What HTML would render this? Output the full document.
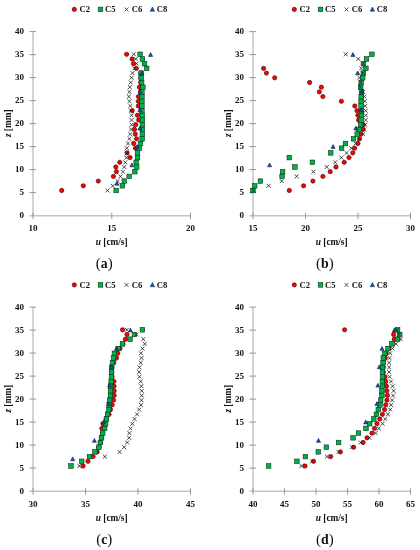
<!DOCTYPE html>
<html><head><meta charset="utf-8"><style>
html,body{margin:0;padding:0;background:#fff;}
svg{display:block;filter:blur(0.3px);}
text{font-family:"Liberation Serif",serif;fill:#111;}
.tk{font-size:9px;font-weight:bold;}
.lg{font-size:8.6px;font-weight:bold;}
.ti{font-size:9.3px;font-weight:bold;}
.cap{font-size:13.8px;font-weight:bold;}
</style></head><body>
<svg width="420" height="550" viewBox="0 0 420 550">
<rect width="420" height="550" fill="#fff"/>
<g transform="translate(0,0)">
<circle cx="74.3" cy="9.4" r="2.15" fill="#ff0000" stroke="#2a0000" stroke-width="0.6"/>
<rect x="98.2" y="7.1000000000000005" width="4.6" height="4.6" fill="#00b050" stroke="#0a2a10" stroke-width="0.55"/>
<path d="M124.6 7.5L128.4 11.3M128.4 7.5L124.6 11.3" stroke="#262626" stroke-width="0.8"/>
<path d="M152.4 7.0L154.6 11.2L150.2 11.2Z" fill="#1658b0" stroke="#0b1f45" stroke-width="0.5" stroke-linejoin="round"/>
<text x="79.5" y="12" class="lg">C2</text>
<text x="105.1" y="12" class="lg">C5</text>
<text x="131.7" y="12" class="lg">C6</text>
<text x="156.7" y="12" class="lg">C8</text>
<line x1="33.0" y1="31.4" x2="33.0" y2="215.8" stroke="#c4c4c4" stroke-width="1.5"/>
<text x="24" y="218.4" class="tk" text-anchor="end">0</text>
<line x1="29.4" y1="192.6" x2="36" y2="192.6" stroke="#8c8c8c" stroke-width="0.9"/>
<text x="24" y="195.4" class="tk" text-anchor="end">5</text>
<line x1="29.4" y1="169.6" x2="36" y2="169.6" stroke="#8c8c8c" stroke-width="0.9"/>
<text x="24" y="172.4" class="tk" text-anchor="end">10</text>
<line x1="29.4" y1="146.6" x2="36" y2="146.6" stroke="#8c8c8c" stroke-width="0.9"/>
<text x="24" y="149.4" class="tk" text-anchor="end">15</text>
<line x1="29.4" y1="123.6" x2="36" y2="123.6" stroke="#8c8c8c" stroke-width="0.9"/>
<text x="24" y="126.4" class="tk" text-anchor="end">20</text>
<line x1="29.4" y1="100.6" x2="36" y2="100.6" stroke="#8c8c8c" stroke-width="0.9"/>
<text x="24" y="103.4" class="tk" text-anchor="end">25</text>
<line x1="29.4" y1="77.6" x2="36" y2="77.6" stroke="#8c8c8c" stroke-width="0.9"/>
<text x="24" y="80.4" class="tk" text-anchor="end">30</text>
<line x1="29.4" y1="54.6" x2="36" y2="54.6" stroke="#8c8c8c" stroke-width="0.9"/>
<text x="24" y="57.4" class="tk" text-anchor="end">35</text>
<line x1="29.4" y1="31.6" x2="36" y2="31.6" stroke="#8c8c8c" stroke-width="0.9"/>
<text x="24" y="34.4" class="tk" text-anchor="end">40</text>
<line x1="29.4" y1="215.8" x2="190.5" y2="215.8" stroke="#c4c4c4" stroke-width="1.5"/>
<line x1="33.0" y1="212.8" x2="33.0" y2="219" stroke="#8c8c8c" stroke-width="0.9"/>
<text x="33.0" y="231.4" class="tk" text-anchor="middle">10</text>
<line x1="111.8" y1="212.8" x2="111.8" y2="219" stroke="#8c8c8c" stroke-width="0.9"/>
<text x="111.8" y="231.4" class="tk" text-anchor="middle">15</text>
<line x1="190.5" y1="212.8" x2="190.5" y2="219" stroke="#8c8c8c" stroke-width="0.9"/>
<text x="190.5" y="231.4" class="tk" text-anchor="middle">20</text>
<text x="111.7" y="245" class="ti" text-anchor="middle"><tspan font-style="italic">u</tspan> [cm/s]</text>
<text transform="translate(11.2,123.3) rotate(-90)" class="ti" text-anchor="middle"><tspan font-style="italic">z</tspan> [mm]</text>
<text x="104.3" y="268.4" class="cap" text-anchor="middle"><tspan font-weight="normal" font-size="15">(</tspan>a<tspan font-weight="normal" font-size="15">)</tspan></text>
</g>
<circle cx="61.7" cy="190.5" r="2.15" fill="#ff0000" stroke="#2a0000" stroke-width="0.6"/>
<circle cx="83.3" cy="185.8" r="2.15" fill="#ff0000" stroke="#2a0000" stroke-width="0.6"/>
<circle cx="98.3" cy="181.1" r="2.15" fill="#ff0000" stroke="#2a0000" stroke-width="0.6"/>
<circle cx="113.4" cy="176.4" r="2.15" fill="#ff0000" stroke="#2a0000" stroke-width="0.6"/>
<circle cx="116.4" cy="171.7" r="2.15" fill="#ff0000" stroke="#2a0000" stroke-width="0.6"/>
<circle cx="115.8" cy="167.0" r="2.15" fill="#ff0000" stroke="#2a0000" stroke-width="0.6"/>
<circle cx="119.8" cy="162.3" r="2.15" fill="#ff0000" stroke="#2a0000" stroke-width="0.6"/>
<circle cx="130.1" cy="157.6" r="2.15" fill="#ff0000" stroke="#2a0000" stroke-width="0.6"/>
<circle cx="127.1" cy="152.9" r="2.15" fill="#ff0000" stroke="#2a0000" stroke-width="0.6"/>
<circle cx="135.5" cy="148.2" r="2.15" fill="#ff0000" stroke="#2a0000" stroke-width="0.6"/>
<circle cx="133.7" cy="143.5" r="2.15" fill="#ff0000" stroke="#2a0000" stroke-width="0.6"/>
<circle cx="136.6" cy="138.8" r="2.15" fill="#ff0000" stroke="#2a0000" stroke-width="0.6"/>
<circle cx="135.3" cy="134.1" r="2.15" fill="#ff0000" stroke="#2a0000" stroke-width="0.6"/>
<circle cx="134.5" cy="129.4" r="2.15" fill="#ff0000" stroke="#2a0000" stroke-width="0.6"/>
<circle cx="135.7" cy="124.7" r="2.15" fill="#ff0000" stroke="#2a0000" stroke-width="0.6"/>
<circle cx="138.7" cy="120.0" r="2.15" fill="#ff0000" stroke="#2a0000" stroke-width="0.6"/>
<circle cx="137.5" cy="115.3" r="2.15" fill="#ff0000" stroke="#2a0000" stroke-width="0.6"/>
<circle cx="132.2" cy="110.7" r="2.15" fill="#ff0000" stroke="#2a0000" stroke-width="0.6"/>
<circle cx="138.3" cy="106.0" r="2.15" fill="#ff0000" stroke="#2a0000" stroke-width="0.6"/>
<circle cx="138.4" cy="101.3" r="2.15" fill="#ff0000" stroke="#2a0000" stroke-width="0.6"/>
<circle cx="138.4" cy="96.6" r="2.15" fill="#ff0000" stroke="#2a0000" stroke-width="0.6"/>
<circle cx="140.4" cy="91.9" r="2.15" fill="#ff0000" stroke="#2a0000" stroke-width="0.6"/>
<circle cx="139.4" cy="87.2" r="2.15" fill="#ff0000" stroke="#2a0000" stroke-width="0.6"/>
<circle cx="140.6" cy="82.5" r="2.15" fill="#ff0000" stroke="#2a0000" stroke-width="0.6"/>
<circle cx="140.8" cy="77.8" r="2.15" fill="#ff0000" stroke="#2a0000" stroke-width="0.6"/>
<circle cx="140.6" cy="73.1" r="2.15" fill="#ff0000" stroke="#2a0000" stroke-width="0.6"/>
<circle cx="136.3" cy="68.4" r="2.15" fill="#ff0000" stroke="#2a0000" stroke-width="0.6"/>
<circle cx="133.5" cy="63.7" r="2.15" fill="#ff0000" stroke="#2a0000" stroke-width="0.6"/>
<circle cx="132.1" cy="59.0" r="2.15" fill="#ff0000" stroke="#2a0000" stroke-width="0.6"/>
<circle cx="126.6" cy="54.3" r="2.15" fill="#ff0000" stroke="#2a0000" stroke-width="0.6"/>
<rect x="113.9" y="188.2" width="4.6" height="4.6" fill="#00b050" stroke="#0a2a10" stroke-width="0.55"/>
<rect x="120.1" y="183.5" width="4.6" height="4.6" fill="#00b050" stroke="#0a2a10" stroke-width="0.55"/>
<rect x="122.0" y="178.8" width="4.6" height="4.6" fill="#00b050" stroke="#0a2a10" stroke-width="0.55"/>
<rect x="126.9" y="174.1" width="4.6" height="4.6" fill="#00b050" stroke="#0a2a10" stroke-width="0.55"/>
<rect x="132.5" y="169.4" width="4.6" height="4.6" fill="#00b050" stroke="#0a2a10" stroke-width="0.55"/>
<rect x="134.4" y="164.7" width="4.6" height="4.6" fill="#00b050" stroke="#0a2a10" stroke-width="0.55"/>
<rect x="133.9" y="160.0" width="4.6" height="4.6" fill="#00b050" stroke="#0a2a10" stroke-width="0.55"/>
<rect x="135.2" y="155.3" width="4.6" height="4.6" fill="#00b050" stroke="#0a2a10" stroke-width="0.55"/>
<rect x="135.2" y="150.6" width="4.6" height="4.6" fill="#00b050" stroke="#0a2a10" stroke-width="0.55"/>
<rect x="137.2" y="145.9" width="4.6" height="4.6" fill="#00b050" stroke="#0a2a10" stroke-width="0.55"/>
<rect x="138.2" y="141.2" width="4.6" height="4.6" fill="#00b050" stroke="#0a2a10" stroke-width="0.55"/>
<rect x="139.9" y="136.5" width="4.6" height="4.6" fill="#00b050" stroke="#0a2a10" stroke-width="0.55"/>
<rect x="140.1" y="131.8" width="4.6" height="4.6" fill="#00b050" stroke="#0a2a10" stroke-width="0.55"/>
<rect x="140.1" y="127.1" width="4.6" height="4.6" fill="#00b050" stroke="#0a2a10" stroke-width="0.55"/>
<rect x="140.1" y="122.4" width="4.6" height="4.6" fill="#00b050" stroke="#0a2a10" stroke-width="0.55"/>
<rect x="140.1" y="117.7" width="4.6" height="4.6" fill="#00b050" stroke="#0a2a10" stroke-width="0.55"/>
<rect x="139.9" y="113.0" width="4.6" height="4.6" fill="#00b050" stroke="#0a2a10" stroke-width="0.55"/>
<rect x="139.6" y="108.4" width="4.6" height="4.6" fill="#00b050" stroke="#0a2a10" stroke-width="0.55"/>
<rect x="139.6" y="103.7" width="4.6" height="4.6" fill="#00b050" stroke="#0a2a10" stroke-width="0.55"/>
<rect x="139.6" y="99.0" width="4.6" height="4.6" fill="#00b050" stroke="#0a2a10" stroke-width="0.55"/>
<rect x="139.6" y="94.3" width="4.6" height="4.6" fill="#00b050" stroke="#0a2a10" stroke-width="0.55"/>
<rect x="139.6" y="89.6" width="4.6" height="4.6" fill="#00b050" stroke="#0a2a10" stroke-width="0.55"/>
<rect x="140.6" y="84.9" width="4.6" height="4.6" fill="#00b050" stroke="#0a2a10" stroke-width="0.55"/>
<rect x="139.3" y="80.2" width="4.6" height="4.6" fill="#00b050" stroke="#0a2a10" stroke-width="0.55"/>
<rect x="138.9" y="75.5" width="4.6" height="4.6" fill="#00b050" stroke="#0a2a10" stroke-width="0.55"/>
<rect x="138.9" y="70.8" width="4.6" height="4.6" fill="#00b050" stroke="#0a2a10" stroke-width="0.55"/>
<rect x="144.4" y="66.1" width="4.6" height="4.6" fill="#00b050" stroke="#0a2a10" stroke-width="0.55"/>
<rect x="142.2" y="61.4" width="4.6" height="4.6" fill="#00b050" stroke="#0a2a10" stroke-width="0.55"/>
<rect x="140.1" y="56.7" width="4.6" height="4.6" fill="#00b050" stroke="#0a2a10" stroke-width="0.55"/>
<rect x="137.8" y="52.0" width="4.6" height="4.6" fill="#00b050" stroke="#0a2a10" stroke-width="0.55"/>
<path d="M105.65 188.55L109.55 192.45M109.55 188.55L105.65 192.45" stroke="#262626" stroke-width="0.85" fill="none"/>
<path d="M110.75 183.85L114.65 187.75M114.65 183.85L110.75 187.75" stroke="#262626" stroke-width="0.85" fill="none"/>
<path d="M115.65 179.16L119.55 183.06M119.55 179.16L115.65 183.06" stroke="#262626" stroke-width="0.85" fill="none"/>
<path d="M118.55 174.46L122.45 178.36M122.45 174.46L118.55 178.36" stroke="#262626" stroke-width="0.85" fill="none"/>
<path d="M120.95 169.76L124.85 173.66M124.85 169.76L120.95 173.66" stroke="#262626" stroke-width="0.85" fill="none"/>
<path d="M122.35 165.06L126.25 168.96M126.25 165.06L122.35 168.96" stroke="#262626" stroke-width="0.85" fill="none"/>
<path d="M123.35 160.37L127.25 164.27M127.25 160.37L123.35 164.27" stroke="#262626" stroke-width="0.85" fill="none"/>
<path d="M124.35 155.67L128.25 159.57M128.25 155.67L124.35 159.57" stroke="#262626" stroke-width="0.85" fill="none"/>
<path d="M124.85 150.97L128.75 154.87M128.75 150.97L124.85 154.87" stroke="#262626" stroke-width="0.85" fill="none"/>
<path d="M124.85 146.28L128.75 150.18M128.75 146.28L124.85 150.18" stroke="#262626" stroke-width="0.85" fill="none"/>
<path d="M126.05 141.58L129.95 145.48M129.95 141.58L126.05 145.48" stroke="#262626" stroke-width="0.85" fill="none"/>
<path d="M127.45 136.88L131.35 140.78M131.35 136.88L127.45 140.78" stroke="#262626" stroke-width="0.85" fill="none"/>
<path d="M128.35 132.19L132.25 136.09M132.25 132.19L128.35 136.09" stroke="#262626" stroke-width="0.85" fill="none"/>
<path d="M129.25 127.49L133.15 131.39M133.15 127.49L129.25 131.39" stroke="#262626" stroke-width="0.85" fill="none"/>
<path d="M129.65 122.79L133.55 126.69M133.55 122.79L129.65 126.69" stroke="#262626" stroke-width="0.85" fill="none"/>
<path d="M129.65 118.09L133.55 122.00M133.55 118.09L129.65 122.00" stroke="#262626" stroke-width="0.85" fill="none"/>
<path d="M129.65 113.40L133.55 117.30M133.55 113.40L129.65 117.30" stroke="#262626" stroke-width="0.85" fill="none"/>
<path d="M129.05 108.70L132.95 112.60M132.95 108.70L129.05 112.60" stroke="#262626" stroke-width="0.85" fill="none"/>
<path d="M128.35 104.00L132.25 107.90M132.25 104.00L128.35 107.90" stroke="#262626" stroke-width="0.85" fill="none"/>
<path d="M127.45 99.31L131.35 103.21M131.35 99.31L127.45 103.21" stroke="#262626" stroke-width="0.85" fill="none"/>
<path d="M126.95 94.61L130.85 98.51M130.85 94.61L126.95 98.51" stroke="#262626" stroke-width="0.85" fill="none"/>
<path d="M127.45 89.91L131.35 93.81M131.35 89.91L127.45 93.81" stroke="#262626" stroke-width="0.85" fill="none"/>
<path d="M127.85 85.22L131.75 89.12M131.75 85.22L127.85 89.12" stroke="#262626" stroke-width="0.85" fill="none"/>
<path d="M128.75 80.52L132.65 84.42M132.65 80.52L128.75 84.42" stroke="#262626" stroke-width="0.85" fill="none"/>
<path d="M129.65 75.82L133.55 79.72M133.55 75.82L129.65 79.72" stroke="#262626" stroke-width="0.85" fill="none"/>
<path d="M130.55 71.12L134.45 75.03M134.45 71.12L130.55 75.03" stroke="#262626" stroke-width="0.85" fill="none"/>
<path d="M132.55 66.43L136.45 70.33M136.45 66.43L132.55 70.33" stroke="#262626" stroke-width="0.85" fill="none"/>
<path d="M134.65 61.73L138.55 65.63M138.55 61.73L134.65 65.63" stroke="#262626" stroke-width="0.85" fill="none"/>
<path d="M133.75 57.03L137.65 60.93M137.65 57.03L133.75 60.93" stroke="#262626" stroke-width="0.85" fill="none"/>
<path d="M131.85 52.34L135.75 56.24M135.75 52.34L131.85 56.24" stroke="#262626" stroke-width="0.85" fill="none"/>
<path d="M116.90 181.40L118.90 185.20L114.90 185.20Z" fill="#1658b0" stroke="#0a1838" stroke-width="0.6" stroke-linejoin="round"/>
<path d="M131.90 163.00L133.90 166.80L129.90 166.80Z" fill="#1658b0" stroke="#0a1838" stroke-width="0.6" stroke-linejoin="round"/>
<path d="M137.10 144.60L139.10 148.40L135.10 148.40Z" fill="#1658b0" stroke="#0a1838" stroke-width="0.6" stroke-linejoin="round"/>
<path d="M139.80 126.20L141.80 130.00L137.80 130.00Z" fill="#1658b0" stroke="#0a1838" stroke-width="0.6" stroke-linejoin="round"/>
<path d="M139.80 107.80L141.80 111.60L137.80 111.60Z" fill="#1658b0" stroke="#0a1838" stroke-width="0.6" stroke-linejoin="round"/>
<path d="M140.10 89.40L142.10 93.20L138.10 93.20Z" fill="#1658b0" stroke="#0a1838" stroke-width="0.6" stroke-linejoin="round"/>
<path d="M142.00 71.00L144.00 74.80L140.00 74.80Z" fill="#1658b0" stroke="#0a1838" stroke-width="0.6" stroke-linejoin="round"/>
<path d="M150.60 52.60L152.60 56.40L148.60 56.40Z" fill="#1658b0" stroke="#0a1838" stroke-width="0.6" stroke-linejoin="round"/>
<g transform="translate(220,0)">
<circle cx="74.3" cy="9.4" r="2.15" fill="#ff0000" stroke="#2a0000" stroke-width="0.6"/>
<rect x="98.2" y="7.1000000000000005" width="4.6" height="4.6" fill="#00b050" stroke="#0a2a10" stroke-width="0.55"/>
<path d="M124.6 7.5L128.4 11.3M128.4 7.5L124.6 11.3" stroke="#262626" stroke-width="0.8"/>
<path d="M152.4 7.0L154.6 11.2L150.2 11.2Z" fill="#1658b0" stroke="#0b1f45" stroke-width="0.5" stroke-linejoin="round"/>
<text x="79.5" y="12" class="lg">C2</text>
<text x="105.1" y="12" class="lg">C5</text>
<text x="131.7" y="12" class="lg">C6</text>
<text x="156.7" y="12" class="lg">C8</text>
<line x1="33.0" y1="31.4" x2="33.0" y2="215.8" stroke="#c4c4c4" stroke-width="1.5"/>
<text x="24" y="218.4" class="tk" text-anchor="end">0</text>
<line x1="29.4" y1="192.6" x2="36" y2="192.6" stroke="#8c8c8c" stroke-width="0.9"/>
<text x="24" y="195.4" class="tk" text-anchor="end">5</text>
<line x1="29.4" y1="169.6" x2="36" y2="169.6" stroke="#8c8c8c" stroke-width="0.9"/>
<text x="24" y="172.4" class="tk" text-anchor="end">10</text>
<line x1="29.4" y1="146.6" x2="36" y2="146.6" stroke="#8c8c8c" stroke-width="0.9"/>
<text x="24" y="149.4" class="tk" text-anchor="end">15</text>
<line x1="29.4" y1="123.6" x2="36" y2="123.6" stroke="#8c8c8c" stroke-width="0.9"/>
<text x="24" y="126.4" class="tk" text-anchor="end">20</text>
<line x1="29.4" y1="100.6" x2="36" y2="100.6" stroke="#8c8c8c" stroke-width="0.9"/>
<text x="24" y="103.4" class="tk" text-anchor="end">25</text>
<line x1="29.4" y1="77.6" x2="36" y2="77.6" stroke="#8c8c8c" stroke-width="0.9"/>
<text x="24" y="80.4" class="tk" text-anchor="end">30</text>
<line x1="29.4" y1="54.6" x2="36" y2="54.6" stroke="#8c8c8c" stroke-width="0.9"/>
<text x="24" y="57.4" class="tk" text-anchor="end">35</text>
<line x1="29.4" y1="31.6" x2="36" y2="31.6" stroke="#8c8c8c" stroke-width="0.9"/>
<text x="24" y="34.4" class="tk" text-anchor="end">40</text>
<line x1="29.4" y1="215.8" x2="190.5" y2="215.8" stroke="#c4c4c4" stroke-width="1.5"/>
<line x1="33.0" y1="212.8" x2="33.0" y2="219" stroke="#8c8c8c" stroke-width="0.9"/>
<text x="33.0" y="231.4" class="tk" text-anchor="middle">15</text>
<line x1="85.5" y1="212.8" x2="85.5" y2="219" stroke="#8c8c8c" stroke-width="0.9"/>
<text x="85.5" y="231.4" class="tk" text-anchor="middle">20</text>
<line x1="138.0" y1="212.8" x2="138.0" y2="219" stroke="#8c8c8c" stroke-width="0.9"/>
<text x="138.0" y="231.4" class="tk" text-anchor="middle">25</text>
<line x1="190.5" y1="212.8" x2="190.5" y2="219" stroke="#8c8c8c" stroke-width="0.9"/>
<text x="190.5" y="231.4" class="tk" text-anchor="middle">30</text>
<text x="111.7" y="245" class="ti" text-anchor="middle"><tspan font-style="italic">u</tspan> [cm/s]</text>
<text transform="translate(11.2,123.3) rotate(-90)" class="ti" text-anchor="middle"><tspan font-style="italic">z</tspan> [mm]</text>
<text x="104.89999999999999" y="268.4" class="cap" text-anchor="middle"><tspan font-weight="normal" font-size="15">(</tspan>b<tspan font-weight="normal" font-size="15">)</tspan></text>
</g>
<circle cx="289.3" cy="190.5" r="2.15" fill="#ff0000" stroke="#2a0000" stroke-width="0.6"/>
<circle cx="303.6" cy="185.8" r="2.15" fill="#ff0000" stroke="#2a0000" stroke-width="0.6"/>
<circle cx="312.9" cy="181.1" r="2.15" fill="#ff0000" stroke="#2a0000" stroke-width="0.6"/>
<circle cx="322.9" cy="176.4" r="2.15" fill="#ff0000" stroke="#2a0000" stroke-width="0.6"/>
<circle cx="330.2" cy="171.7" r="2.15" fill="#ff0000" stroke="#2a0000" stroke-width="0.6"/>
<circle cx="336.0" cy="167.0" r="2.15" fill="#ff0000" stroke="#2a0000" stroke-width="0.6"/>
<circle cx="344.2" cy="162.3" r="2.15" fill="#ff0000" stroke="#2a0000" stroke-width="0.6"/>
<circle cx="349.0" cy="157.6" r="2.15" fill="#ff0000" stroke="#2a0000" stroke-width="0.6"/>
<circle cx="352.8" cy="152.9" r="2.15" fill="#ff0000" stroke="#2a0000" stroke-width="0.6"/>
<circle cx="354.6" cy="148.2" r="2.15" fill="#ff0000" stroke="#2a0000" stroke-width="0.6"/>
<circle cx="357.9" cy="143.5" r="2.15" fill="#ff0000" stroke="#2a0000" stroke-width="0.6"/>
<circle cx="359.5" cy="138.8" r="2.15" fill="#ff0000" stroke="#2a0000" stroke-width="0.6"/>
<circle cx="360.9" cy="134.1" r="2.15" fill="#ff0000" stroke="#2a0000" stroke-width="0.6"/>
<circle cx="363.0" cy="129.4" r="2.15" fill="#ff0000" stroke="#2a0000" stroke-width="0.6"/>
<circle cx="363.3" cy="124.7" r="2.15" fill="#ff0000" stroke="#2a0000" stroke-width="0.6"/>
<circle cx="358.6" cy="120.0" r="2.15" fill="#ff0000" stroke="#2a0000" stroke-width="0.6"/>
<circle cx="357.9" cy="115.3" r="2.15" fill="#ff0000" stroke="#2a0000" stroke-width="0.6"/>
<circle cx="357.0" cy="110.7" r="2.15" fill="#ff0000" stroke="#2a0000" stroke-width="0.6"/>
<circle cx="354.8" cy="106.0" r="2.15" fill="#ff0000" stroke="#2a0000" stroke-width="0.6"/>
<circle cx="341.4" cy="101.3" r="2.15" fill="#ff0000" stroke="#2a0000" stroke-width="0.6"/>
<circle cx="322.9" cy="96.6" r="2.15" fill="#ff0000" stroke="#2a0000" stroke-width="0.6"/>
<circle cx="319.3" cy="91.9" r="2.15" fill="#ff0000" stroke="#2a0000" stroke-width="0.6"/>
<circle cx="321.4" cy="87.2" r="2.15" fill="#ff0000" stroke="#2a0000" stroke-width="0.6"/>
<circle cx="309.6" cy="82.5" r="2.15" fill="#ff0000" stroke="#2a0000" stroke-width="0.6"/>
<circle cx="274.7" cy="77.8" r="2.15" fill="#ff0000" stroke="#2a0000" stroke-width="0.6"/>
<circle cx="266.4" cy="73.1" r="2.15" fill="#ff0000" stroke="#2a0000" stroke-width="0.6"/>
<circle cx="263.6" cy="68.4" r="2.15" fill="#ff0000" stroke="#2a0000" stroke-width="0.6"/>
<rect x="250.6" y="188.2" width="4.6" height="4.6" fill="#00b050" stroke="#0a2a10" stroke-width="0.55"/>
<rect x="252.4" y="183.5" width="4.6" height="4.6" fill="#00b050" stroke="#0a2a10" stroke-width="0.55"/>
<rect x="258.1" y="178.8" width="4.6" height="4.6" fill="#00b050" stroke="#0a2a10" stroke-width="0.55"/>
<rect x="279.8" y="174.1" width="4.6" height="4.6" fill="#00b050" stroke="#0a2a10" stroke-width="0.55"/>
<rect x="280.3" y="169.4" width="4.6" height="4.6" fill="#00b050" stroke="#0a2a10" stroke-width="0.55"/>
<rect x="292.6" y="164.7" width="4.6" height="4.6" fill="#00b050" stroke="#0a2a10" stroke-width="0.55"/>
<rect x="310.1" y="160.0" width="4.6" height="4.6" fill="#00b050" stroke="#0a2a10" stroke-width="0.55"/>
<rect x="287.0" y="155.3" width="4.6" height="4.6" fill="#00b050" stroke="#0a2a10" stroke-width="0.55"/>
<rect x="328.4" y="150.6" width="4.6" height="4.6" fill="#00b050" stroke="#0a2a10" stroke-width="0.55"/>
<rect x="339.3" y="145.9" width="4.6" height="4.6" fill="#00b050" stroke="#0a2a10" stroke-width="0.55"/>
<rect x="343.2" y="141.2" width="4.6" height="4.6" fill="#00b050" stroke="#0a2a10" stroke-width="0.55"/>
<rect x="351.2" y="136.5" width="4.6" height="4.6" fill="#00b050" stroke="#0a2a10" stroke-width="0.55"/>
<rect x="354.9" y="131.8" width="4.6" height="4.6" fill="#00b050" stroke="#0a2a10" stroke-width="0.55"/>
<rect x="356.6" y="127.1" width="4.6" height="4.6" fill="#00b050" stroke="#0a2a10" stroke-width="0.55"/>
<rect x="358.3" y="122.4" width="4.6" height="4.6" fill="#00b050" stroke="#0a2a10" stroke-width="0.55"/>
<rect x="358.8" y="117.7" width="4.6" height="4.6" fill="#00b050" stroke="#0a2a10" stroke-width="0.55"/>
<rect x="359.1" y="113.0" width="4.6" height="4.6" fill="#00b050" stroke="#0a2a10" stroke-width="0.55"/>
<rect x="359.1" y="108.4" width="4.6" height="4.6" fill="#00b050" stroke="#0a2a10" stroke-width="0.55"/>
<rect x="358.8" y="103.7" width="4.6" height="4.6" fill="#00b050" stroke="#0a2a10" stroke-width="0.55"/>
<rect x="358.8" y="99.0" width="4.6" height="4.6" fill="#00b050" stroke="#0a2a10" stroke-width="0.55"/>
<rect x="358.9" y="94.3" width="4.6" height="4.6" fill="#00b050" stroke="#0a2a10" stroke-width="0.55"/>
<rect x="359.2" y="89.6" width="4.6" height="4.6" fill="#00b050" stroke="#0a2a10" stroke-width="0.55"/>
<rect x="358.4" y="84.9" width="4.6" height="4.6" fill="#00b050" stroke="#0a2a10" stroke-width="0.55"/>
<rect x="358.9" y="80.2" width="4.6" height="4.6" fill="#00b050" stroke="#0a2a10" stroke-width="0.55"/>
<rect x="360.4" y="75.5" width="4.6" height="4.6" fill="#00b050" stroke="#0a2a10" stroke-width="0.55"/>
<rect x="361.0" y="70.8" width="4.6" height="4.6" fill="#00b050" stroke="#0a2a10" stroke-width="0.55"/>
<rect x="363.6" y="66.1" width="4.6" height="4.6" fill="#00b050" stroke="#0a2a10" stroke-width="0.55"/>
<rect x="361.1" y="61.4" width="4.6" height="4.6" fill="#00b050" stroke="#0a2a10" stroke-width="0.55"/>
<rect x="364.2" y="56.7" width="4.6" height="4.6" fill="#00b050" stroke="#0a2a10" stroke-width="0.55"/>
<rect x="369.6" y="52.0" width="4.6" height="4.6" fill="#00b050" stroke="#0a2a10" stroke-width="0.55"/>
<path d="M251.65 188.55L255.55 192.45M255.55 188.55L251.65 192.45" stroke="#262626" stroke-width="0.85" fill="none"/>
<path d="M266.65 183.85L270.55 187.75M270.55 183.85L266.65 187.75" stroke="#262626" stroke-width="0.85" fill="none"/>
<path d="M279.75 179.16L283.65 183.06M283.65 179.16L279.75 183.06" stroke="#262626" stroke-width="0.85" fill="none"/>
<path d="M294.65 174.46L298.55 178.36M298.55 174.46L294.65 178.36" stroke="#262626" stroke-width="0.85" fill="none"/>
<path d="M311.45 169.76L315.35 173.66M315.35 169.76L311.45 173.66" stroke="#262626" stroke-width="0.85" fill="none"/>
<path d="M324.75 165.06L328.65 168.96M328.65 165.06L324.75 168.96" stroke="#262626" stroke-width="0.85" fill="none"/>
<path d="M333.25 160.37L337.15 164.27M337.15 160.37L333.25 164.27" stroke="#262626" stroke-width="0.85" fill="none"/>
<path d="M339.35 155.67L343.25 159.57M343.25 155.67L339.35 159.57" stroke="#262626" stroke-width="0.85" fill="none"/>
<path d="M344.65 150.97L348.55 154.87M348.55 150.97L344.65 154.87" stroke="#262626" stroke-width="0.85" fill="none"/>
<path d="M349.35 146.28L353.25 150.18M353.25 146.28L349.35 150.18" stroke="#262626" stroke-width="0.85" fill="none"/>
<path d="M353.55 141.58L357.45 145.48M357.45 141.58L353.55 145.48" stroke="#262626" stroke-width="0.85" fill="none"/>
<path d="M357.35 136.88L361.25 140.78M361.25 136.88L357.35 140.78" stroke="#262626" stroke-width="0.85" fill="none"/>
<path d="M361.35 132.19L365.25 136.09M365.25 132.19L361.35 136.09" stroke="#262626" stroke-width="0.85" fill="none"/>
<path d="M362.25 127.49L366.15 131.39M366.15 127.49L362.25 131.39" stroke="#262626" stroke-width="0.85" fill="none"/>
<path d="M363.25 122.79L367.15 126.69M367.15 122.79L363.25 126.69" stroke="#262626" stroke-width="0.85" fill="none"/>
<path d="M363.75 118.09L367.65 122.00M367.65 118.09L363.75 122.00" stroke="#262626" stroke-width="0.85" fill="none"/>
<path d="M363.75 113.40L367.65 117.30M367.65 113.40L363.75 117.30" stroke="#262626" stroke-width="0.85" fill="none"/>
<path d="M363.75 108.70L367.65 112.60M367.65 108.70L363.75 112.60" stroke="#262626" stroke-width="0.85" fill="none"/>
<path d="M363.25 104.00L367.15 107.90M367.15 104.00L363.25 107.90" stroke="#262626" stroke-width="0.85" fill="none"/>
<path d="M362.85 99.31L366.75 103.21M366.75 99.31L362.85 103.21" stroke="#262626" stroke-width="0.85" fill="none"/>
<path d="M362.35 94.61L366.25 98.51M366.25 94.61L362.35 98.51" stroke="#262626" stroke-width="0.85" fill="none"/>
<path d="M361.05 89.91L364.95 93.81M364.95 89.91L361.05 93.81" stroke="#262626" stroke-width="0.85" fill="none"/>
<path d="M358.35 85.22L362.25 89.12M362.25 85.22L358.35 89.12" stroke="#262626" stroke-width="0.85" fill="none"/>
<path d="M358.65 80.52L362.55 84.42M362.55 80.52L358.65 84.42" stroke="#262626" stroke-width="0.85" fill="none"/>
<path d="M357.55 75.82L361.45 79.72M361.45 75.82L357.55 79.72" stroke="#262626" stroke-width="0.85" fill="none"/>
<path d="M361.05 71.12L364.95 75.03M364.95 71.12L361.05 75.03" stroke="#262626" stroke-width="0.85" fill="none"/>
<path d="M359.25 66.43L363.15 70.33M363.15 66.43L359.25 70.33" stroke="#262626" stroke-width="0.85" fill="none"/>
<path d="M361.55 61.73L365.45 65.63M365.45 61.73L361.55 65.63" stroke="#262626" stroke-width="0.85" fill="none"/>
<path d="M356.35 57.03L360.25 60.93M360.25 57.03L356.35 60.93" stroke="#262626" stroke-width="0.85" fill="none"/>
<path d="M343.75 52.34L347.65 56.24M347.65 52.34L343.75 56.24" stroke="#262626" stroke-width="0.85" fill="none"/>
<path d="M269.60 163.00L271.60 166.80L267.60 166.80Z" fill="#1658b0" stroke="#0a1838" stroke-width="0.6" stroke-linejoin="round"/>
<path d="M333.10 144.60L335.10 148.40L331.10 148.40Z" fill="#1658b0" stroke="#0a1838" stroke-width="0.6" stroke-linejoin="round"/>
<path d="M355.80 126.20L357.80 130.00L353.80 130.00Z" fill="#1658b0" stroke="#0a1838" stroke-width="0.6" stroke-linejoin="round"/>
<path d="M361.40 107.80L363.40 111.60L359.40 111.60Z" fill="#1658b0" stroke="#0a1838" stroke-width="0.6" stroke-linejoin="round"/>
<path d="M361.70 89.40L363.70 93.20L359.70 93.20Z" fill="#1658b0" stroke="#0a1838" stroke-width="0.6" stroke-linejoin="round"/>
<path d="M357.70 71.00L359.70 74.80L355.70 74.80Z" fill="#1658b0" stroke="#0a1838" stroke-width="0.6" stroke-linejoin="round"/>
<path d="M352.90 52.60L354.90 56.40L350.90 56.40Z" fill="#1658b0" stroke="#0a1838" stroke-width="0.6" stroke-linejoin="round"/>
<g transform="translate(0,275.5)">
<circle cx="74.3" cy="9.4" r="2.15" fill="#ff0000" stroke="#2a0000" stroke-width="0.6"/>
<rect x="98.2" y="7.1000000000000005" width="4.6" height="4.6" fill="#00b050" stroke="#0a2a10" stroke-width="0.55"/>
<path d="M124.6 7.5L128.4 11.3M128.4 7.5L124.6 11.3" stroke="#262626" stroke-width="0.8"/>
<path d="M152.4 7.0L154.6 11.2L150.2 11.2Z" fill="#1658b0" stroke="#0b1f45" stroke-width="0.5" stroke-linejoin="round"/>
<text x="79.5" y="12" class="lg">C2</text>
<text x="105.1" y="12" class="lg">C5</text>
<text x="131.7" y="12" class="lg">C6</text>
<text x="156.7" y="12" class="lg">C8</text>
<line x1="33.0" y1="31.4" x2="33.0" y2="215.8" stroke="#c4c4c4" stroke-width="1.5"/>
<text x="24" y="218.4" class="tk" text-anchor="end">0</text>
<line x1="29.4" y1="192.6" x2="36" y2="192.6" stroke="#8c8c8c" stroke-width="0.9"/>
<text x="24" y="195.4" class="tk" text-anchor="end">5</text>
<line x1="29.4" y1="169.6" x2="36" y2="169.6" stroke="#8c8c8c" stroke-width="0.9"/>
<text x="24" y="172.4" class="tk" text-anchor="end">10</text>
<line x1="29.4" y1="146.6" x2="36" y2="146.6" stroke="#8c8c8c" stroke-width="0.9"/>
<text x="24" y="149.4" class="tk" text-anchor="end">15</text>
<line x1="29.4" y1="123.6" x2="36" y2="123.6" stroke="#8c8c8c" stroke-width="0.9"/>
<text x="24" y="126.4" class="tk" text-anchor="end">20</text>
<line x1="29.4" y1="100.6" x2="36" y2="100.6" stroke="#8c8c8c" stroke-width="0.9"/>
<text x="24" y="103.4" class="tk" text-anchor="end">25</text>
<line x1="29.4" y1="77.6" x2="36" y2="77.6" stroke="#8c8c8c" stroke-width="0.9"/>
<text x="24" y="80.4" class="tk" text-anchor="end">30</text>
<line x1="29.4" y1="54.6" x2="36" y2="54.6" stroke="#8c8c8c" stroke-width="0.9"/>
<text x="24" y="57.4" class="tk" text-anchor="end">35</text>
<line x1="29.4" y1="31.6" x2="36" y2="31.6" stroke="#8c8c8c" stroke-width="0.9"/>
<text x="24" y="34.4" class="tk" text-anchor="end">40</text>
<line x1="29.4" y1="215.8" x2="190.5" y2="215.8" stroke="#c4c4c4" stroke-width="1.5"/>
<line x1="33.0" y1="212.8" x2="33.0" y2="219" stroke="#8c8c8c" stroke-width="0.9"/>
<text x="33.0" y="231.4" class="tk" text-anchor="middle">30</text>
<line x1="85.5" y1="212.8" x2="85.5" y2="219" stroke="#8c8c8c" stroke-width="0.9"/>
<text x="85.5" y="231.4" class="tk" text-anchor="middle">35</text>
<line x1="138.0" y1="212.8" x2="138.0" y2="219" stroke="#8c8c8c" stroke-width="0.9"/>
<text x="138.0" y="231.4" class="tk" text-anchor="middle">40</text>
<line x1="190.5" y1="212.8" x2="190.5" y2="219" stroke="#8c8c8c" stroke-width="0.9"/>
<text x="190.5" y="231.4" class="tk" text-anchor="middle">45</text>
<text x="111.7" y="245" class="ti" text-anchor="middle"><tspan font-style="italic">u</tspan> [cm/s]</text>
<text transform="translate(11.2,123.3) rotate(-90)" class="ti" text-anchor="middle"><tspan font-style="italic">z</tspan> [mm]</text>
<text x="104.3" y="268.4" class="cap" text-anchor="middle"><tspan font-weight="normal" font-size="15">(</tspan>c<tspan font-weight="normal" font-size="15">)</tspan></text>
</g>
<circle cx="83.1" cy="466.0" r="2.15" fill="#ff0000" stroke="#2a0000" stroke-width="0.6"/>
<circle cx="88.0" cy="461.3" r="2.15" fill="#ff0000" stroke="#2a0000" stroke-width="0.6"/>
<circle cx="93.1" cy="456.6" r="2.15" fill="#ff0000" stroke="#2a0000" stroke-width="0.6"/>
<circle cx="97.2" cy="451.9" r="2.15" fill="#ff0000" stroke="#2a0000" stroke-width="0.6"/>
<circle cx="98.8" cy="447.2" r="2.15" fill="#ff0000" stroke="#2a0000" stroke-width="0.6"/>
<circle cx="100.4" cy="442.5" r="2.15" fill="#ff0000" stroke="#2a0000" stroke-width="0.6"/>
<circle cx="101.5" cy="437.8" r="2.15" fill="#ff0000" stroke="#2a0000" stroke-width="0.6"/>
<circle cx="102.6" cy="433.1" r="2.15" fill="#ff0000" stroke="#2a0000" stroke-width="0.6"/>
<circle cx="101.8" cy="428.4" r="2.15" fill="#ff0000" stroke="#2a0000" stroke-width="0.6"/>
<circle cx="102.9" cy="423.7" r="2.15" fill="#ff0000" stroke="#2a0000" stroke-width="0.6"/>
<circle cx="106.0" cy="419.0" r="2.15" fill="#ff0000" stroke="#2a0000" stroke-width="0.6"/>
<circle cx="109.0" cy="414.3" r="2.15" fill="#ff0000" stroke="#2a0000" stroke-width="0.6"/>
<circle cx="110.5" cy="409.6" r="2.15" fill="#ff0000" stroke="#2a0000" stroke-width="0.6"/>
<circle cx="112.2" cy="404.9" r="2.15" fill="#ff0000" stroke="#2a0000" stroke-width="0.6"/>
<circle cx="113.5" cy="400.2" r="2.15" fill="#ff0000" stroke="#2a0000" stroke-width="0.6"/>
<circle cx="114.2" cy="395.5" r="2.15" fill="#ff0000" stroke="#2a0000" stroke-width="0.6"/>
<circle cx="114.2" cy="390.8" r="2.15" fill="#ff0000" stroke="#2a0000" stroke-width="0.6"/>
<circle cx="114.0" cy="386.2" r="2.15" fill="#ff0000" stroke="#2a0000" stroke-width="0.6"/>
<circle cx="113.9" cy="381.5" r="2.15" fill="#ff0000" stroke="#2a0000" stroke-width="0.6"/>
<circle cx="112.1" cy="376.8" r="2.15" fill="#ff0000" stroke="#2a0000" stroke-width="0.6"/>
<circle cx="111.8" cy="372.1" r="2.15" fill="#ff0000" stroke="#2a0000" stroke-width="0.6"/>
<circle cx="111.9" cy="367.4" r="2.15" fill="#ff0000" stroke="#2a0000" stroke-width="0.6"/>
<circle cx="113.8" cy="362.7" r="2.15" fill="#ff0000" stroke="#2a0000" stroke-width="0.6"/>
<circle cx="116.5" cy="358.0" r="2.15" fill="#ff0000" stroke="#2a0000" stroke-width="0.6"/>
<circle cx="117.8" cy="353.3" r="2.15" fill="#ff0000" stroke="#2a0000" stroke-width="0.6"/>
<circle cx="120.0" cy="348.6" r="2.15" fill="#ff0000" stroke="#2a0000" stroke-width="0.6"/>
<circle cx="123.0" cy="343.9" r="2.15" fill="#ff0000" stroke="#2a0000" stroke-width="0.6"/>
<circle cx="125.4" cy="339.2" r="2.15" fill="#ff0000" stroke="#2a0000" stroke-width="0.6"/>
<circle cx="127.0" cy="334.5" r="2.15" fill="#ff0000" stroke="#2a0000" stroke-width="0.6"/>
<circle cx="122.5" cy="329.8" r="2.15" fill="#ff0000" stroke="#2a0000" stroke-width="0.6"/>
<rect x="68.7" y="463.7" width="4.6" height="4.6" fill="#00b050" stroke="#0a2a10" stroke-width="0.55"/>
<rect x="79.4" y="459.0" width="4.6" height="4.6" fill="#00b050" stroke="#0a2a10" stroke-width="0.55"/>
<rect x="87.2" y="454.3" width="4.6" height="4.6" fill="#00b050" stroke="#0a2a10" stroke-width="0.55"/>
<rect x="92.6" y="449.6" width="4.6" height="4.6" fill="#00b050" stroke="#0a2a10" stroke-width="0.55"/>
<rect x="96.6" y="444.9" width="4.6" height="4.6" fill="#00b050" stroke="#0a2a10" stroke-width="0.55"/>
<rect x="98.1" y="440.2" width="4.6" height="4.6" fill="#00b050" stroke="#0a2a10" stroke-width="0.55"/>
<rect x="99.2" y="435.5" width="4.6" height="4.6" fill="#00b050" stroke="#0a2a10" stroke-width="0.55"/>
<rect x="100.4" y="430.8" width="4.6" height="4.6" fill="#00b050" stroke="#0a2a10" stroke-width="0.55"/>
<rect x="102.4" y="426.1" width="4.6" height="4.6" fill="#00b050" stroke="#0a2a10" stroke-width="0.55"/>
<rect x="103.3" y="421.4" width="4.6" height="4.6" fill="#00b050" stroke="#0a2a10" stroke-width="0.55"/>
<rect x="104.2" y="416.7" width="4.6" height="4.6" fill="#00b050" stroke="#0a2a10" stroke-width="0.55"/>
<rect x="105.3" y="412.0" width="4.6" height="4.6" fill="#00b050" stroke="#0a2a10" stroke-width="0.55"/>
<rect x="106.4" y="407.3" width="4.6" height="4.6" fill="#00b050" stroke="#0a2a10" stroke-width="0.55"/>
<rect x="106.9" y="402.6" width="4.6" height="4.6" fill="#00b050" stroke="#0a2a10" stroke-width="0.55"/>
<rect x="107.3" y="397.9" width="4.6" height="4.6" fill="#00b050" stroke="#0a2a10" stroke-width="0.55"/>
<rect x="108.2" y="393.2" width="4.6" height="4.6" fill="#00b050" stroke="#0a2a10" stroke-width="0.55"/>
<rect x="108.2" y="388.5" width="4.6" height="4.6" fill="#00b050" stroke="#0a2a10" stroke-width="0.55"/>
<rect x="108.3" y="383.9" width="4.6" height="4.6" fill="#00b050" stroke="#0a2a10" stroke-width="0.55"/>
<rect x="108.9" y="379.2" width="4.6" height="4.6" fill="#00b050" stroke="#0a2a10" stroke-width="0.55"/>
<rect x="109.2" y="374.5" width="4.6" height="4.6" fill="#00b050" stroke="#0a2a10" stroke-width="0.55"/>
<rect x="109.2" y="369.8" width="4.6" height="4.6" fill="#00b050" stroke="#0a2a10" stroke-width="0.55"/>
<rect x="109.3" y="365.1" width="4.6" height="4.6" fill="#00b050" stroke="#0a2a10" stroke-width="0.55"/>
<rect x="110.2" y="360.4" width="4.6" height="4.6" fill="#00b050" stroke="#0a2a10" stroke-width="0.55"/>
<rect x="111.2" y="355.7" width="4.6" height="4.6" fill="#00b050" stroke="#0a2a10" stroke-width="0.55"/>
<rect x="112.1" y="351.0" width="4.6" height="4.6" fill="#00b050" stroke="#0a2a10" stroke-width="0.55"/>
<rect x="115.9" y="346.3" width="4.6" height="4.6" fill="#00b050" stroke="#0a2a10" stroke-width="0.55"/>
<rect x="120.2" y="341.6" width="4.6" height="4.6" fill="#00b050" stroke="#0a2a10" stroke-width="0.55"/>
<rect x="127.8" y="336.9" width="4.6" height="4.6" fill="#00b050" stroke="#0a2a10" stroke-width="0.55"/>
<rect x="132.1" y="332.2" width="4.6" height="4.6" fill="#00b050" stroke="#0a2a10" stroke-width="0.55"/>
<rect x="140.1" y="327.5" width="4.6" height="4.6" fill="#00b050" stroke="#0a2a10" stroke-width="0.55"/>
<path d="M77.35 464.05L81.25 467.95M81.25 464.05L77.35 467.95" stroke="#262626" stroke-width="0.85" fill="none"/>
<path d="M102.95 454.66L106.85 458.56M106.85 454.66L102.95 458.56" stroke="#262626" stroke-width="0.85" fill="none"/>
<path d="M117.65 449.96L121.55 453.86M121.55 449.96L117.65 453.86" stroke="#262626" stroke-width="0.85" fill="none"/>
<path d="M122.25 445.26L126.15 449.16M126.15 445.26L122.25 449.16" stroke="#262626" stroke-width="0.85" fill="none"/>
<path d="M125.25 440.56L129.15 444.46M129.15 440.56L125.25 444.46" stroke="#262626" stroke-width="0.85" fill="none"/>
<path d="M127.15 435.87L131.05 439.77M131.05 435.87L127.15 439.77" stroke="#262626" stroke-width="0.85" fill="none"/>
<path d="M127.45 431.17L131.35 435.07M131.35 431.17L127.45 435.07" stroke="#262626" stroke-width="0.85" fill="none"/>
<path d="M128.55 426.47L132.45 430.37M132.45 426.47L128.55 430.37" stroke="#262626" stroke-width="0.85" fill="none"/>
<path d="M130.45 421.78L134.35 425.68M134.35 421.78L130.45 425.68" stroke="#262626" stroke-width="0.85" fill="none"/>
<path d="M132.55 417.08L136.45 420.98M136.45 417.08L132.55 420.98" stroke="#262626" stroke-width="0.85" fill="none"/>
<path d="M135.05 412.38L138.95 416.28M138.95 412.38L135.05 416.28" stroke="#262626" stroke-width="0.85" fill="none"/>
<path d="M137.25 407.69L141.15 411.59M141.15 407.69L137.25 411.59" stroke="#262626" stroke-width="0.85" fill="none"/>
<path d="M139.05 402.99L142.95 406.89M142.95 402.99L139.05 406.89" stroke="#262626" stroke-width="0.85" fill="none"/>
<path d="M139.55 398.29L143.45 402.19M143.45 398.29L139.55 402.19" stroke="#262626" stroke-width="0.85" fill="none"/>
<path d="M139.85 393.60L143.75 397.50M143.75 393.60L139.85 397.50" stroke="#262626" stroke-width="0.85" fill="none"/>
<path d="M139.85 388.90L143.75 392.80M143.75 388.90L139.85 392.80" stroke="#262626" stroke-width="0.85" fill="none"/>
<path d="M139.45 384.20L143.35 388.10M143.35 384.20L139.45 388.10" stroke="#262626" stroke-width="0.85" fill="none"/>
<path d="M138.75 379.50L142.65 383.40M142.65 379.50L138.75 383.40" stroke="#262626" stroke-width="0.85" fill="none"/>
<path d="M137.55 374.81L141.45 378.71M141.45 374.81L137.55 378.71" stroke="#262626" stroke-width="0.85" fill="none"/>
<path d="M137.15 370.11L141.05 374.01M141.05 370.11L137.15 374.01" stroke="#262626" stroke-width="0.85" fill="none"/>
<path d="M137.55 365.41L141.45 369.31M141.45 365.41L137.55 369.31" stroke="#262626" stroke-width="0.85" fill="none"/>
<path d="M138.85 360.72L142.75 364.62M142.75 360.72L138.85 364.62" stroke="#262626" stroke-width="0.85" fill="none"/>
<path d="M139.55 356.02L143.45 359.92M143.45 356.02L139.55 359.92" stroke="#262626" stroke-width="0.85" fill="none"/>
<path d="M138.95 351.32L142.85 355.22M142.85 351.32L138.95 355.22" stroke="#262626" stroke-width="0.85" fill="none"/>
<path d="M140.55 346.62L144.45 350.52M144.45 346.62L140.55 350.52" stroke="#262626" stroke-width="0.85" fill="none"/>
<path d="M142.75 341.93L146.65 345.83M146.65 341.93L142.75 345.83" stroke="#262626" stroke-width="0.85" fill="none"/>
<path d="M141.35 337.23L145.25 341.13M145.25 337.23L141.35 341.13" stroke="#262626" stroke-width="0.85" fill="none"/>
<path d="M134.65 332.53L138.55 336.43M138.55 332.53L134.65 336.43" stroke="#262626" stroke-width="0.85" fill="none"/>
<path d="M124.85 327.84L128.75 331.74M128.75 327.84L124.85 331.74" stroke="#262626" stroke-width="0.85" fill="none"/>
<path d="M72.70 456.90L74.70 460.70L70.70 460.70Z" fill="#1658b0" stroke="#0a1838" stroke-width="0.6" stroke-linejoin="round"/>
<path d="M94.40 438.50L96.40 442.30L92.40 442.30Z" fill="#1658b0" stroke="#0a1838" stroke-width="0.6" stroke-linejoin="round"/>
<path d="M103.50 420.10L105.50 423.90L101.50 423.90Z" fill="#1658b0" stroke="#0a1838" stroke-width="0.6" stroke-linejoin="round"/>
<path d="M108.70 401.70L110.70 405.50L106.70 405.50Z" fill="#1658b0" stroke="#0a1838" stroke-width="0.6" stroke-linejoin="round"/>
<path d="M109.50 383.30L111.50 387.10L107.50 387.10Z" fill="#1658b0" stroke="#0a1838" stroke-width="0.6" stroke-linejoin="round"/>
<path d="M111.60 364.90L113.60 368.70L109.60 368.70Z" fill="#1658b0" stroke="#0a1838" stroke-width="0.6" stroke-linejoin="round"/>
<path d="M116.50 346.50L118.50 350.30L114.50 350.30Z" fill="#1658b0" stroke="#0a1838" stroke-width="0.6" stroke-linejoin="round"/>
<path d="M130.40 328.10L132.40 331.90L128.40 331.90Z" fill="#1658b0" stroke="#0a1838" stroke-width="0.6" stroke-linejoin="round"/>
<g transform="translate(220,275.5)">
<circle cx="74.3" cy="9.4" r="2.15" fill="#ff0000" stroke="#2a0000" stroke-width="0.6"/>
<rect x="98.2" y="7.1000000000000005" width="4.6" height="4.6" fill="#00b050" stroke="#0a2a10" stroke-width="0.55"/>
<path d="M124.6 7.5L128.4 11.3M128.4 7.5L124.6 11.3" stroke="#262626" stroke-width="0.8"/>
<path d="M152.4 7.0L154.6 11.2L150.2 11.2Z" fill="#1658b0" stroke="#0b1f45" stroke-width="0.5" stroke-linejoin="round"/>
<text x="79.5" y="12" class="lg">C2</text>
<text x="105.1" y="12" class="lg">C5</text>
<text x="131.7" y="12" class="lg">C6</text>
<text x="156.7" y="12" class="lg">C8</text>
<line x1="33.0" y1="31.4" x2="33.0" y2="215.8" stroke="#c4c4c4" stroke-width="1.5"/>
<text x="24" y="218.4" class="tk" text-anchor="end">0</text>
<line x1="29.4" y1="192.6" x2="36" y2="192.6" stroke="#8c8c8c" stroke-width="0.9"/>
<text x="24" y="195.4" class="tk" text-anchor="end">5</text>
<line x1="29.4" y1="169.6" x2="36" y2="169.6" stroke="#8c8c8c" stroke-width="0.9"/>
<text x="24" y="172.4" class="tk" text-anchor="end">10</text>
<line x1="29.4" y1="146.6" x2="36" y2="146.6" stroke="#8c8c8c" stroke-width="0.9"/>
<text x="24" y="149.4" class="tk" text-anchor="end">15</text>
<line x1="29.4" y1="123.6" x2="36" y2="123.6" stroke="#8c8c8c" stroke-width="0.9"/>
<text x="24" y="126.4" class="tk" text-anchor="end">20</text>
<line x1="29.4" y1="100.6" x2="36" y2="100.6" stroke="#8c8c8c" stroke-width="0.9"/>
<text x="24" y="103.4" class="tk" text-anchor="end">25</text>
<line x1="29.4" y1="77.6" x2="36" y2="77.6" stroke="#8c8c8c" stroke-width="0.9"/>
<text x="24" y="80.4" class="tk" text-anchor="end">30</text>
<line x1="29.4" y1="54.6" x2="36" y2="54.6" stroke="#8c8c8c" stroke-width="0.9"/>
<text x="24" y="57.4" class="tk" text-anchor="end">35</text>
<line x1="29.4" y1="31.6" x2="36" y2="31.6" stroke="#8c8c8c" stroke-width="0.9"/>
<text x="24" y="34.4" class="tk" text-anchor="end">40</text>
<line x1="29.4" y1="215.8" x2="190.5" y2="215.8" stroke="#c4c4c4" stroke-width="1.5"/>
<line x1="33.0" y1="212.8" x2="33.0" y2="219" stroke="#8c8c8c" stroke-width="0.9"/>
<text x="33.0" y="231.4" class="tk" text-anchor="middle">40</text>
<line x1="64.5" y1="212.8" x2="64.5" y2="219" stroke="#8c8c8c" stroke-width="0.9"/>
<text x="64.5" y="231.4" class="tk" text-anchor="middle">45</text>
<line x1="96.0" y1="212.8" x2="96.0" y2="219" stroke="#8c8c8c" stroke-width="0.9"/>
<text x="96.0" y="231.4" class="tk" text-anchor="middle">50</text>
<line x1="127.5" y1="212.8" x2="127.5" y2="219" stroke="#8c8c8c" stroke-width="0.9"/>
<text x="127.5" y="231.4" class="tk" text-anchor="middle">55</text>
<line x1="159.0" y1="212.8" x2="159.0" y2="219" stroke="#8c8c8c" stroke-width="0.9"/>
<text x="159.0" y="231.4" class="tk" text-anchor="middle">60</text>
<line x1="190.5" y1="212.8" x2="190.5" y2="219" stroke="#8c8c8c" stroke-width="0.9"/>
<text x="190.5" y="231.4" class="tk" text-anchor="middle">65</text>
<text x="111.7" y="245" class="ti" text-anchor="middle"><tspan font-style="italic">u</tspan> [cm/s]</text>
<text transform="translate(11.2,123.3) rotate(-90)" class="ti" text-anchor="middle"><tspan font-style="italic">z</tspan> [mm]</text>
<text x="104.89999999999999" y="268.4" class="cap" text-anchor="middle"><tspan font-weight="normal" font-size="15">(</tspan>d<tspan font-weight="normal" font-size="15">)</tspan></text>
</g>
<circle cx="305.0" cy="466.0" r="2.15" fill="#ff0000" stroke="#2a0000" stroke-width="0.6"/>
<circle cx="313.5" cy="461.3" r="2.15" fill="#ff0000" stroke="#2a0000" stroke-width="0.6"/>
<circle cx="330.7" cy="456.6" r="2.15" fill="#ff0000" stroke="#2a0000" stroke-width="0.6"/>
<circle cx="340.4" cy="451.9" r="2.15" fill="#ff0000" stroke="#2a0000" stroke-width="0.6"/>
<circle cx="353.6" cy="447.2" r="2.15" fill="#ff0000" stroke="#2a0000" stroke-width="0.6"/>
<circle cx="363.1" cy="442.5" r="2.15" fill="#ff0000" stroke="#2a0000" stroke-width="0.6"/>
<circle cx="367.0" cy="437.8" r="2.15" fill="#ff0000" stroke="#2a0000" stroke-width="0.6"/>
<circle cx="372.0" cy="433.1" r="2.15" fill="#ff0000" stroke="#2a0000" stroke-width="0.6"/>
<circle cx="374.5" cy="428.4" r="2.15" fill="#ff0000" stroke="#2a0000" stroke-width="0.6"/>
<circle cx="377.0" cy="423.7" r="2.15" fill="#ff0000" stroke="#2a0000" stroke-width="0.6"/>
<circle cx="379.8" cy="419.0" r="2.15" fill="#ff0000" stroke="#2a0000" stroke-width="0.6"/>
<circle cx="382.4" cy="414.3" r="2.15" fill="#ff0000" stroke="#2a0000" stroke-width="0.6"/>
<circle cx="384.5" cy="409.6" r="2.15" fill="#ff0000" stroke="#2a0000" stroke-width="0.6"/>
<circle cx="385.7" cy="404.9" r="2.15" fill="#ff0000" stroke="#2a0000" stroke-width="0.6"/>
<circle cx="386.9" cy="400.2" r="2.15" fill="#ff0000" stroke="#2a0000" stroke-width="0.6"/>
<circle cx="387.4" cy="395.5" r="2.15" fill="#ff0000" stroke="#2a0000" stroke-width="0.6"/>
<circle cx="386.9" cy="390.8" r="2.15" fill="#ff0000" stroke="#2a0000" stroke-width="0.6"/>
<circle cx="386.4" cy="386.2" r="2.15" fill="#ff0000" stroke="#2a0000" stroke-width="0.6"/>
<circle cx="385.7" cy="381.5" r="2.15" fill="#ff0000" stroke="#2a0000" stroke-width="0.6"/>
<circle cx="385.0" cy="376.8" r="2.15" fill="#ff0000" stroke="#2a0000" stroke-width="0.6"/>
<circle cx="383.4" cy="372.1" r="2.15" fill="#ff0000" stroke="#2a0000" stroke-width="0.6"/>
<circle cx="383.3" cy="367.4" r="2.15" fill="#ff0000" stroke="#2a0000" stroke-width="0.6"/>
<circle cx="383.5" cy="362.7" r="2.15" fill="#ff0000" stroke="#2a0000" stroke-width="0.6"/>
<circle cx="385.3" cy="358.0" r="2.15" fill="#ff0000" stroke="#2a0000" stroke-width="0.6"/>
<circle cx="386.2" cy="353.3" r="2.15" fill="#ff0000" stroke="#2a0000" stroke-width="0.6"/>
<circle cx="388.6" cy="348.6" r="2.15" fill="#ff0000" stroke="#2a0000" stroke-width="0.6"/>
<circle cx="392.0" cy="343.9" r="2.15" fill="#ff0000" stroke="#2a0000" stroke-width="0.6"/>
<circle cx="394.3" cy="339.2" r="2.15" fill="#ff0000" stroke="#2a0000" stroke-width="0.6"/>
<circle cx="393.6" cy="334.5" r="2.15" fill="#ff0000" stroke="#2a0000" stroke-width="0.6"/>
<circle cx="344.6" cy="329.8" r="2.15" fill="#ff0000" stroke="#2a0000" stroke-width="0.6"/>
<rect x="266.3" y="463.7" width="4.6" height="4.6" fill="#00b050" stroke="#0a2a10" stroke-width="0.55"/>
<rect x="294.6" y="459.0" width="4.6" height="4.6" fill="#00b050" stroke="#0a2a10" stroke-width="0.55"/>
<rect x="303.1" y="454.3" width="4.6" height="4.6" fill="#00b050" stroke="#0a2a10" stroke-width="0.55"/>
<rect x="316.0" y="449.6" width="4.6" height="4.6" fill="#00b050" stroke="#0a2a10" stroke-width="0.55"/>
<rect x="324.1" y="444.9" width="4.6" height="4.6" fill="#00b050" stroke="#0a2a10" stroke-width="0.55"/>
<rect x="336.3" y="440.2" width="4.6" height="4.6" fill="#00b050" stroke="#0a2a10" stroke-width="0.55"/>
<rect x="350.8" y="435.5" width="4.6" height="4.6" fill="#00b050" stroke="#0a2a10" stroke-width="0.55"/>
<rect x="356.2" y="430.8" width="4.6" height="4.6" fill="#00b050" stroke="#0a2a10" stroke-width="0.55"/>
<rect x="363.7" y="426.1" width="4.6" height="4.6" fill="#00b050" stroke="#0a2a10" stroke-width="0.55"/>
<rect x="367.4" y="421.4" width="4.6" height="4.6" fill="#00b050" stroke="#0a2a10" stroke-width="0.55"/>
<rect x="371.5" y="416.7" width="4.6" height="4.6" fill="#00b050" stroke="#0a2a10" stroke-width="0.55"/>
<rect x="374.1" y="412.0" width="4.6" height="4.6" fill="#00b050" stroke="#0a2a10" stroke-width="0.55"/>
<rect x="376.0" y="407.3" width="4.6" height="4.6" fill="#00b050" stroke="#0a2a10" stroke-width="0.55"/>
<rect x="377.7" y="402.6" width="4.6" height="4.6" fill="#00b050" stroke="#0a2a10" stroke-width="0.55"/>
<rect x="378.4" y="397.9" width="4.6" height="4.6" fill="#00b050" stroke="#0a2a10" stroke-width="0.55"/>
<rect x="379.6" y="393.2" width="4.6" height="4.6" fill="#00b050" stroke="#0a2a10" stroke-width="0.55"/>
<rect x="379.6" y="388.5" width="4.6" height="4.6" fill="#00b050" stroke="#0a2a10" stroke-width="0.55"/>
<rect x="380.1" y="383.9" width="4.6" height="4.6" fill="#00b050" stroke="#0a2a10" stroke-width="0.55"/>
<rect x="380.1" y="379.2" width="4.6" height="4.6" fill="#00b050" stroke="#0a2a10" stroke-width="0.55"/>
<rect x="380.2" y="374.5" width="4.6" height="4.6" fill="#00b050" stroke="#0a2a10" stroke-width="0.55"/>
<rect x="380.2" y="369.8" width="4.6" height="4.6" fill="#00b050" stroke="#0a2a10" stroke-width="0.55"/>
<rect x="380.2" y="365.1" width="4.6" height="4.6" fill="#00b050" stroke="#0a2a10" stroke-width="0.55"/>
<rect x="380.8" y="360.4" width="4.6" height="4.6" fill="#00b050" stroke="#0a2a10" stroke-width="0.55"/>
<rect x="381.0" y="355.7" width="4.6" height="4.6" fill="#00b050" stroke="#0a2a10" stroke-width="0.55"/>
<rect x="382.4" y="351.0" width="4.6" height="4.6" fill="#00b050" stroke="#0a2a10" stroke-width="0.55"/>
<rect x="385.7" y="346.3" width="4.6" height="4.6" fill="#00b050" stroke="#0a2a10" stroke-width="0.55"/>
<rect x="389.6" y="341.6" width="4.6" height="4.6" fill="#00b050" stroke="#0a2a10" stroke-width="0.55"/>
<rect x="395.4" y="336.9" width="4.6" height="4.6" fill="#00b050" stroke="#0a2a10" stroke-width="0.55"/>
<rect x="397.4" y="332.2" width="4.6" height="4.6" fill="#00b050" stroke="#0a2a10" stroke-width="0.55"/>
<rect x="395.3" y="327.5" width="4.6" height="4.6" fill="#00b050" stroke="#0a2a10" stroke-width="0.55"/>
<path d="M299.45 464.05L303.35 467.95M303.35 464.05L299.45 467.95" stroke="#262626" stroke-width="0.85" fill="none"/>
<path d="M310.15 459.35L314.05 463.25M314.05 459.35L310.15 463.25" stroke="#262626" stroke-width="0.85" fill="none"/>
<path d="M324.95 454.66L328.85 458.56M328.85 454.66L324.95 458.56" stroke="#262626" stroke-width="0.85" fill="none"/>
<path d="M336.55 449.96L340.45 453.86M340.45 449.96L336.55 453.86" stroke="#262626" stroke-width="0.85" fill="none"/>
<path d="M350.05 445.26L353.95 449.16M353.95 445.26L350.05 449.16" stroke="#262626" stroke-width="0.85" fill="none"/>
<path d="M358.75 440.56L362.65 444.46M362.65 440.56L358.75 444.46" stroke="#262626" stroke-width="0.85" fill="none"/>
<path d="M367.35 435.87L371.25 439.77M371.25 435.87L367.35 439.77" stroke="#262626" stroke-width="0.85" fill="none"/>
<path d="M373.55 431.17L377.45 435.07M377.45 431.17L373.55 435.07" stroke="#262626" stroke-width="0.85" fill="none"/>
<path d="M376.85 426.47L380.75 430.37M380.75 426.47L376.85 430.37" stroke="#262626" stroke-width="0.85" fill="none"/>
<path d="M380.65 421.78L384.55 425.68M384.55 421.78L380.65 425.68" stroke="#262626" stroke-width="0.85" fill="none"/>
<path d="M383.35 417.08L387.25 420.98M387.25 417.08L383.35 420.98" stroke="#262626" stroke-width="0.85" fill="none"/>
<path d="M385.95 412.38L389.85 416.28M389.85 412.38L385.95 416.28" stroke="#262626" stroke-width="0.85" fill="none"/>
<path d="M388.25 407.69L392.15 411.59M392.15 407.69L388.25 411.59" stroke="#262626" stroke-width="0.85" fill="none"/>
<path d="M389.25 402.99L393.15 406.89M393.15 402.99L389.25 406.89" stroke="#262626" stroke-width="0.85" fill="none"/>
<path d="M390.15 398.29L394.05 402.19M394.05 398.29L390.15 402.19" stroke="#262626" stroke-width="0.85" fill="none"/>
<path d="M391.15 393.60L395.05 397.50M395.05 393.60L391.15 397.50" stroke="#262626" stroke-width="0.85" fill="none"/>
<path d="M391.65 388.90L395.55 392.80M395.55 388.90L391.65 392.80" stroke="#262626" stroke-width="0.85" fill="none"/>
<path d="M390.65 384.20L394.55 388.10M394.55 384.20L390.65 388.10" stroke="#262626" stroke-width="0.85" fill="none"/>
<path d="M389.05 379.50L392.95 383.40M392.95 379.50L389.05 383.40" stroke="#262626" stroke-width="0.85" fill="none"/>
<path d="M387.65 374.81L391.55 378.71M391.55 374.81L387.65 378.71" stroke="#262626" stroke-width="0.85" fill="none"/>
<path d="M387.15 370.11L391.05 374.01M391.05 370.11L387.15 374.01" stroke="#262626" stroke-width="0.85" fill="none"/>
<path d="M387.15 365.41L391.05 369.31M391.05 365.41L387.15 369.31" stroke="#262626" stroke-width="0.85" fill="none"/>
<path d="M387.15 360.72L391.05 364.62M391.05 360.72L387.15 364.62" stroke="#262626" stroke-width="0.85" fill="none"/>
<path d="M387.65 356.02L391.55 359.92M391.55 356.02L387.65 359.92" stroke="#262626" stroke-width="0.85" fill="none"/>
<path d="M388.25 351.32L392.15 355.22M392.15 351.32L388.25 355.22" stroke="#262626" stroke-width="0.85" fill="none"/>
<path d="M390.45 346.62L394.35 350.52M394.35 346.62L390.45 350.52" stroke="#262626" stroke-width="0.85" fill="none"/>
<path d="M394.05 341.93L397.95 345.83M397.95 341.93L394.05 345.83" stroke="#262626" stroke-width="0.85" fill="none"/>
<path d="M398.65 337.23L402.55 341.13M402.55 337.23L398.65 341.13" stroke="#262626" stroke-width="0.85" fill="none"/>
<path d="M397.05 332.53L400.95 336.43M400.95 332.53L397.05 336.43" stroke="#262626" stroke-width="0.85" fill="none"/>
<path d="M395.05 327.84L398.95 331.74M398.95 327.84L395.05 331.74" stroke="#262626" stroke-width="0.85" fill="none"/>
<path d="M318.50 438.50L320.50 442.30L316.50 442.30Z" fill="#1658b0" stroke="#0a1838" stroke-width="0.6" stroke-linejoin="round"/>
<path d="M365.70 420.10L367.70 423.90L363.70 423.90Z" fill="#1658b0" stroke="#0a1838" stroke-width="0.6" stroke-linejoin="round"/>
<path d="M376.90 401.70L378.90 405.50L374.90 405.50Z" fill="#1658b0" stroke="#0a1838" stroke-width="0.6" stroke-linejoin="round"/>
<path d="M377.90 383.30L379.90 387.10L375.90 387.10Z" fill="#1658b0" stroke="#0a1838" stroke-width="0.6" stroke-linejoin="round"/>
<path d="M379.30 364.90L381.30 368.70L377.30 368.70Z" fill="#1658b0" stroke="#0a1838" stroke-width="0.6" stroke-linejoin="round"/>
<path d="M382.00 346.50L384.00 350.30L380.00 350.30Z" fill="#1658b0" stroke="#0a1838" stroke-width="0.6" stroke-linejoin="round"/>
<path d="M394.40 328.10L396.40 331.90L392.40 331.90Z" fill="#1658b0" stroke="#0a1838" stroke-width="0.6" stroke-linejoin="round"/>
</svg></body></html>
